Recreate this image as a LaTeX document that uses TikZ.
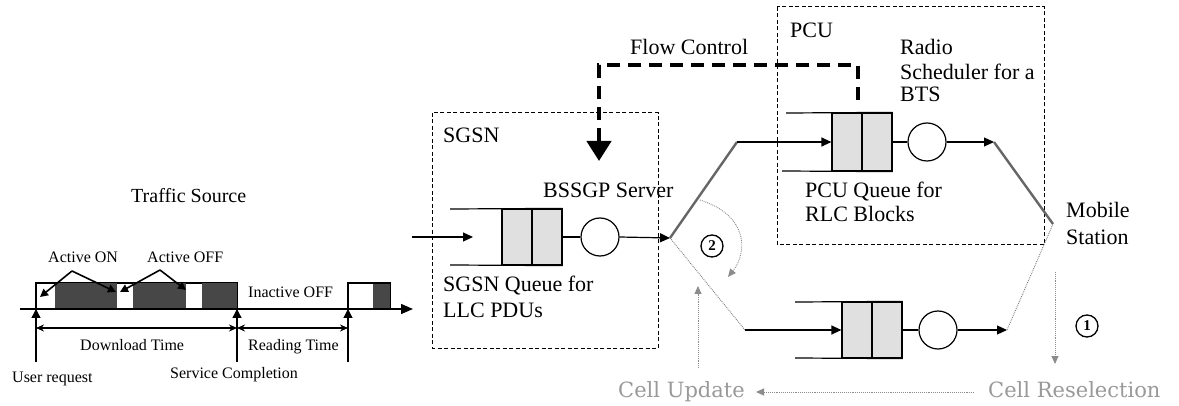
\documentclass[tikz,border=0pt]{standalone}
\usepackage{fontspec}
\setmainfont{Liberation Serif}
\newfontfamily\grayfont{DejaVu Serif}
\usetikzlibrary{arrows.meta}
\begin{document}
\begin{tikzpicture}[x=1pt,y=-1pt,
  big/.style={font=\fontsize{22}{25}\selectfont, inner sep=0pt, anchor=base west},
  small/.style={font=\fontsize{16}{18}\selectfont, inner sep=0pt, anchor=base west},
  graytext/.style={font=\grayfont\fontsize{21}{24}\selectfont, text=black!40, inner sep=0pt, anchor=base west},
  cell/.style={draw, line width=1.2pt, fill=black!12, minimum width=30pt, minimum height=56pt, inner sep=0pt},
  server/.style={draw, line width=1.2pt, circle, minimum size=38pt, inner sep=0pt},
  qline/.style={line width=1.2pt},
  flow/.style={line width=1.2pt, -{Triangle[length=10pt,width=9pt]}},
  switchline/.style={line width=2.4pt, black!60},
  dotline/.style={densely dotted, line width=0.9pt, black!50},
  grayarr/.style={densely dotted, line width=0.9pt, black!45, -{Triangle[length=8pt,width=7pt]}},
  box/.style={dashed, line width=1pt, dash pattern=on 4pt off 2.5pt},
  numcirc/.style={draw, circle, line width=1.3pt, minimum size=22pt, inner sep=0pt, font=\bfseries\fontsize{15}{15}\selectfont},
  tl/.style={line width=1.3pt},
  uparr/.style={line width=1.3pt, -{Triangle[length=9pt,width=9pt]}},
  dbl/.style={line width=1.1pt, {Stealth[length=8pt,width=7pt]}-{Stealth[length=8pt,width=7pt]}},
  act/.style={line width=1.6pt, -{Triangle[length=8pt,width=8pt]}},
  ]
\useasboundingbox (0,0) rectangle (1179,406);

% ---------------- Traffic source ----------------
\node[big, font=\fontsize{20}{24}\selectfont] (ts) at (131,203) {Traffic Source};

\node[small] (aon) at (48,263) {Active ON};
\node[small] (aoff) at (147,263) {Active OFF};
\coordinate (aonp) at (72,271);
\coordinate (aoffp) at (160,270);

\draw[tl] (36,283) rectangle (237,309);
\fill[black!72] (55,283) rectangle (117,309);
\fill[black!72] (133,283) rectangle (186,309);
\fill[black!72] (202,283) rectangle (237,309);
\draw[tl] (348,283) rectangle (390,309);
\fill[black!72] (373,284) rectangle (390,308);

\coordinate (t1) at (40,297);
\coordinate (t2) at (116,292);
\coordinate (t3) at (120,292);
\coordinate (t4) at (186,290);
\draw[act] (aonp) -- (t1);
\draw[act] (aonp) -- (t2);
\draw[act] (aoffp) -- (t3);
\draw[act] (aoffp) -- (t4);

\node[small] (inoff) at (248,298) {Inactive OFF};

\coordinate (ax0) at (20,309);
\coordinate (ax1) at (413,309);
\draw[line width=1.4pt, -{Triangle[length=12pt,width=10pt]}] (ax0) -- (ax1);

\coordinate (ur0) at (36,362);  \coordinate (ur1) at (36,309);
\coordinate (sc0) at (237,362); \coordinate (sc1) at (237,309);
\coordinate (nr0) at (348,362); \coordinate (nr1) at (348,309);
\draw[uparr] (ur0) -- (ur1);
\draw[uparr] (sc0) -- (sc1);
\draw[uparr] (nr0) -- (nr1);

\coordinate (d0) at (36,328);
\coordinate (d1) at (237,328);
\coordinate (d2) at (348,328);
\draw[dbl] (d0) -- (d1);
\draw[dbl] (d1) -- (d2);
\node[small] (dlt) at (80,350) {Download Time};
\node[small] (rdt) at (248,350) {Reading Time};
\node[small] (usr) at (12,382) {User request};
\node[small] (svc) at (170,378) {Service Completion};

% ---------------- SGSN ----------------
\draw[box] (432,113) rectangle (658,348);
\node[big] (sgsn) at (443,143) {SGSN};
\node[big] (bssgp) at (543,198) {BSSGP Server};
\node[big] (sq1) at (443,292) {SGSN Queue for};
\node[big] (sq2) at (443,317) {LLC PDUs};

\node[cell] (s1) at (517,237) {};
\node[cell] (s2) at (547,237) {};
\node[server] (ss) at (600,237) {};
\coordinate (sqt) at (450,209);
\coordinate (sqb) at (450,265);
\draw[qline] (sqt) -- (s2.north east);
\draw[qline] (sqb) -- (s2.south east);
\draw[qline] (s2.east) -- (ss.west);
\coordinate (sin0) at (412,237);
\coordinate (sin1) at (473,237);
\draw[flow] (sin0) -- (sin1);
\coordinate (sw) at (670,238);
\draw[flow] (ss.east) -- (sw);

% ---------------- Flow control ----------------
\node[big] (fc) at (630,55) {Flow Control};
\coordinate (fcs) at (858,100);
\coordinate (fcc1) at (858,65);
\coordinate (fcc2) at (599,65);
\coordinate (fce) at (599,161);
\draw[line width=4.4pt, dash pattern=on 13pt off 8pt, -{Triangle[length=20pt,width=24pt]}]
  (fcs) -- (fcc1) -- (fcc2) -- (fce);

% ---------------- PCU ----------------
\draw[box] (777,7) rectangle (1044,245);
\node[big] (pcu) at (790,38) {PCU};
\node[big] (rad1) at (900,55) {Radio};
\node[big] (rad2) at (900,80) {Scheduler for a};
\node[big] (rad3) at (900,102) {BTS};
\node[big] (pq1) at (805,198) {PCU Queue for};
\node[big] (pq2) at (805,222) {RLC Blocks};

\node[cell, minimum height=58pt] (p1) at (847,142) {};
\node[cell, minimum height=58pt] (p2) at (877,142) {};
\node[server] (ps) at (927,142) {};
\coordinate (pqt) at (786,113);
\coordinate (pqb) at (782,171);
\draw[qline] (pqt) -- (p2.north east);
\draw[qline] (pqb) -- (p2.south east);
\draw[qline] (p2.east) -- (ps.west);

\coordinate (up1) at (737,142);
\draw[switchline] (sw) -- (up1);
\draw[flow] (up1) -- (p1.west);
\coordinate (pr) at (994,142);
\draw[flow] (ps.east) -- (pr);
\coordinate (ms) at (1053,224);
\draw[switchline] (pr) -- (ms);

\node[big] (mob1) at (1066,218) {Mobile};
\node[big] (mob2) at (1066,245) {Station};

% ---------------- lower path ----------------
\node[cell] (l1) at (857,330) {};
\node[cell] (l2) at (887,330) {};
\node[server] (ls) at (938,330) {};
\coordinate (lqt) at (795,302);
\coordinate (lqb) at (795,358);
\draw[qline] (lqt) -- (l2.north east);
\draw[qline] (lqb) -- (l2.south east);
\draw[qline] (l2.east) -- (ls.west);
\coordinate (lo1) at (745,330);
\draw[dotline] (sw) -- (lo1);
\draw[flow] (lo1) -- (l1.west);
\coordinate (lr) at (1007,330);
\draw[flow] (ls.east) -- (lr);
\draw[dotline] (lr) -- (ms);

% circled numbers and arcs
\node[numcirc] (n2) at (712,246) {2};
\node[numcirc] (n1) at (1087,326) {1};
\coordinate (a1) at (700,200);
\coordinate (a4) at (728,277);
\draw[grayarr] (a1) .. controls (748,215) and (748,252) .. (a4);

\node[graytext] (cup) at (618,397) {Cell Update};
\node[graytext] (crs) at (988,397) {Cell Reselection};
\coordinate (cu0) at (698,368);
\coordinate (cu1) at (698,286);
\draw[grayarr] (cu0) -- (cu1);
\coordinate (cr0) at (1055,272);
\coordinate (cr1) at (1055,364);
\draw[grayarr] (cr0) -- (cr1);
\coordinate (h0) at (974,392);
\coordinate (h1) at (756,392);
\draw[grayarr] (h0) -- (h1);
\end{tikzpicture}
\end{document}
